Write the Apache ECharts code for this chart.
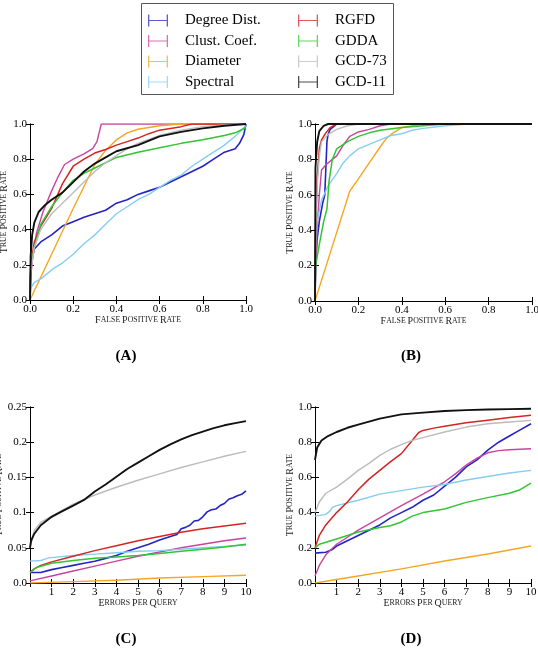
<!DOCTYPE html>
<html>
<head>
<meta charset="utf-8">
<script src="https://cdn.jsdelivr.net/npm/echarts@6/dist/echarts.min.js"></script>
<style>
  html, body { margin: 0; padding: 0; background: #fff; }
  #chart { width: 538px; height: 651px; }
</style>
</head>
<body>
<div id="chart"></div>
<script>
// series names (legend order)
const seriesNames = ['Degree Dist.', 'Clust. Coef.', 'Diameter', 'Spectral', 'RGFD', 'GDDA', 'GCD-73', 'GCD-11']

// (A) ROC, x = false positive rate, y = true positive rate
const degreeA = [[0,0],[0.003,0.15],[0.006,0.22],[0.02,0.29],[0.05,0.33],[0.1,0.37],[0.15,0.42],[0.2,0.445],[0.25,0.47],[0.3,0.49],[0.35,0.51],[0.4,0.55],[0.45,0.57],[0.5,0.6],[0.55,0.62],[0.6,0.64],[0.65,0.67],[0.7,0.7],[0.75,0.73],[0.8,0.76],[0.85,0.8],[0.9,0.84],[0.95,0.86],[0.97,0.89],[0.99,0.94],[1,1]]
const clustA = [[0,0],[0.003,0.12],[0.01,0.22],[0.03,0.38],[0.06,0.5],[0.1,0.62],[0.13,0.7],[0.16,0.77],[0.2,0.8],[0.25,0.83],[0.29,0.86],[0.31,0.9],[0.33,1],[1,1]]
const diameterA = [[0,0],[0.1,0.26],[0.2,0.52],[0.3,0.77],[0.35,0.85],[0.4,0.91],[0.45,0.95],[0.5,0.97],[0.6,0.99],[0.7,1],[1,1]]
const spectralA = [[0,0],[0.005,0.07],[0.02,0.1],[0.05,0.12],[0.08,0.15],[0.11,0.18],[0.15,0.21],[0.2,0.26],[0.25,0.32],[0.3,0.37],[0.35,0.43],[0.4,0.49],[0.45,0.53],[0.5,0.57],[0.55,0.6],[0.6,0.64],[0.65,0.68],[0.7,0.71],[0.75,0.76],[0.8,0.8],[0.85,0.84],[0.9,0.88],[0.95,0.93],[1,0.99]]
const rgfdA = [[0,0],[0.003,0.15],[0.01,0.25],[0.02,0.33],[0.05,0.42],[0.1,0.52],[0.15,0.66],[0.2,0.76],[0.25,0.8],[0.3,0.835],[0.35,0.855],[0.4,0.88],[0.45,0.9],[0.5,0.92],[0.55,0.945],[0.6,0.965],[0.65,0.975],[0.7,0.985],[0.75,1],[1,1]]
const gddaA = [[0,0],[0.003,0.18],[0.02,0.3],[0.05,0.43],[0.1,0.53],[0.15,0.61],[0.2,0.68],[0.25,0.72],[0.3,0.75],[0.35,0.78],[0.4,0.81],[0.5,0.84],[0.6,0.865],[0.7,0.89],[0.8,0.91],[0.9,0.935],[0.95,0.95],[1,0.98]]
const gcd73A = [[0,0],[0.003,0.15],[0.02,0.3],[0.05,0.4],[0.1,0.49],[0.15,0.55],[0.2,0.61],[0.25,0.67],[0.3,0.73],[0.35,0.78],[0.4,0.82],[0.45,0.86],[0.5,0.89],[0.6,0.935],[0.7,0.965],[0.8,0.985],[0.9,0.995],[1,1]]
const gcd11A = [[0,0],[0.003,0.25],[0.01,0.37],[0.02,0.44],[0.04,0.5],[0.07,0.54],[0.1,0.57],[0.15,0.61],[0.2,0.67],[0.25,0.73],[0.3,0.775],[0.35,0.81],[0.4,0.845],[0.5,0.88],[0.6,0.93],[0.7,0.955],[0.8,0.975],[0.9,0.99],[1,1]]

// (B) ROC
const degreeB = [[0,0],[0.003,0.2],[0.01,0.35],[0.02,0.45],[0.035,0.55],[0.045,0.6],[0.05,0.75],[0.055,0.9],[0.06,0.94],[0.07,0.97],[0.09,0.99],[0.1,1],[1,1]]
const clustB = [[0,0],[0.003,0.2],[0.01,0.42],[0.02,0.6],[0.03,0.74],[0.05,0.77],[0.08,0.8],[0.1,0.82],[0.13,0.88],[0.16,0.93],[0.2,0.955],[0.25,0.97],[0.3,0.99],[0.35,1],[1,1]]
const diameterB = [[0,0],[0.08,0.31],[0.16,0.62],[0.2,0.69],[0.25,0.78],[0.3,0.87],[0.33,0.92],[0.36,0.95],[0.4,0.98],[0.45,0.99],[0.5,1],[1,1]]
const spectralB = [[0,0],[0.003,0.3],[0.01,0.45],[0.03,0.57],[0.06,0.65],[0.1,0.72],[0.13,0.78],[0.16,0.82],[0.2,0.86],[0.25,0.885],[0.3,0.91],[0.35,0.935],[0.4,0.945],[0.45,0.965],[0.5,0.975],[0.6,0.99],[0.7,1],[1,1]]
const rgfdB = [[0,0],[0.003,0.4],[0.01,0.7],[0.02,0.86],[0.03,0.91],[0.05,0.95],[0.07,0.98],[0.1,1],[1,1]]
const gddaB = [[0,0],[0.003,0.2],[0.02,0.32],[0.04,0.45],[0.055,0.52],[0.065,0.68],[0.08,0.8],[0.1,0.86],[0.15,0.9],[0.2,0.93],[0.25,0.95],[0.3,0.965],[0.4,0.98],[0.5,0.99],[0.6,1],[1,1]]
const gcd73B = [[0,0],[0.003,0.4],[0.01,0.65],[0.02,0.82],[0.03,0.9],[0.06,0.94],[0.1,0.97],[0.15,0.99],[0.2,1],[1,1]]
const gcd11B = [[0,0],[0.002,0.75],[0.01,0.9],[0.02,0.96],[0.04,0.99],[0.06,1],[1,1]]

// (C) x = errors per query, y = true positive rate
const degreeC = [[0,0.015],[0.5,0.015],[1,0.019],[1.5,0.022],[2,0.025],[2.5,0.028],[3,0.031],[3.5,0.035],[4,0.039],[4.5,0.045],[5,0.05],[5.5,0.055],[6,0.061],[6.5,0.066],[6.8,0.069],[7,0.077],[7.2,0.079],[7.4,0.082],[7.6,0.088],[7.8,0.089],[8,0.094],[8.2,0.101],[8.4,0.104],[8.6,0.105],[8.8,0.11],[9,0.113],[9.2,0.119],[9.4,0.121],[9.6,0.124],[9.8,0.126],[10,0.131]]
const clustC = [[0,0.003],[1,0.01],[2,0.017],[3,0.024],[4,0.031],[5,0.038],[6,0.044],[7,0.05],[8,0.055],[9,0.06],[10,0.064]]
const diameterC = [[0,0],[2,0.002],[4,0.004],[6,0.007],[8,0.009],[10,0.011]]
const spectralC = [[0,0.031],[0.5,0.032],[0.7,0.034],[0.9,0.036],[1,0.036],[2,0.039],[3,0.041],[4,0.043],[5,0.045],[6,0.046],[7,0.048],[8,0.05],[9,0.052],[10,0.054]]
const rgfdC = [[0,0.015],[0.2,0.02],[0.5,0.025],[1,0.03],[2,0.038],[3,0.046],[4,0.053],[5,0.06],[6,0.066],[7,0.072],[8,0.077],[9,0.081],[10,0.085]]
const gddaC = [[0,0.015],[0.3,0.022],[1,0.028],[2,0.032],[3,0.035],[4,0.037],[5,0.039],[6,0.042],[7,0.045],[8,0.048],[9,0.051],[10,0.055]]
const gcd73C = [[0,0.05],[0.2,0.075],[0.5,0.086],[1,0.095],[2,0.112],[3,0.125],[4,0.136],[5,0.146],[6,0.155],[7,0.164],[8,0.172],[9,0.18],[10,0.187]]
const gcd11C = [[0,0.05],[0.05,0.06],[0.2,0.07],[0.5,0.082],[1,0.094],[1.5,0.102],[2,0.11],[2.5,0.118],[3,0.13],[3.5,0.14],[4,0.151],[4.5,0.162],[5,0.171],[5.5,0.18],[6,0.189],[6.5,0.197],[7,0.204],[7.5,0.21],[8,0.215],[8.5,0.22],[9,0.224],[9.5,0.227],[10,0.23]]

// (D)
const degreeD = [[0,0.17],[0.5,0.175],[0.8,0.19],[1,0.21],[1.5,0.24],[2,0.27],[2.5,0.3],[3,0.33],[3.5,0.37],[4,0.4],[4.5,0.43],[5,0.47],[5.5,0.5],[6,0.55],[6.5,0.6],[7,0.66],[7.5,0.7],[8,0.755],[8.5,0.8],[9,0.835],[9.5,0.87],[10,0.905]]
const clustD = [[0,0.04],[0.2,0.1],[0.5,0.16],[1,0.22],[1.5,0.26],[2,0.3],[3,0.37],[4,0.44],[5,0.505],[6,0.575],[6.5,0.62],[7,0.67],[7.5,0.71],[8,0.74],[8.5,0.752],[9,0.757],[10,0.763]]
const diameterD = [[0,0],[2,0.04],[4,0.08],[6,0.125],[8,0.165],[10,0.21]]
const spectralD = [[0,0.38],[0.5,0.39],[0.7,0.41],[0.8,0.43],[1,0.44],[2,0.47],[3,0.505],[4,0.525],[5,0.545],[6,0.56],[7,0.585],[8,0.605],[9,0.625],[10,0.64]]
const rgfdD = [[0,0.2],[0.2,0.27],[0.5,0.33],[1,0.4],[1.5,0.46],[2,0.53],[2.5,0.59],[3,0.64],[3.5,0.69],[4,0.735],[4.5,0.81],[4.8,0.855],[5,0.867],[5.5,0.88],[6,0.89],[7,0.91],[8,0.925],[9,0.94],[10,0.953]]
const gddaD = [[0,0.2],[0.2,0.22],[1,0.25],[2,0.29],[3,0.315],[3.5,0.325],[4,0.347],[4.5,0.38],[5,0.4],[6,0.42],[7,0.458],[8,0.485],[9,0.51],[9.5,0.53],[10,0.568]]
const gcd73D = [[0,0.4],[0.2,0.46],[0.5,0.51],[1,0.545],[1.5,0.59],[2,0.64],[2.5,0.68],[3,0.725],[3.5,0.76],[4,0.786],[4.5,0.81],[5,0.826],[6,0.858],[7,0.886],[8,0.905],[9,0.915],[10,0.924]]
const gcd11D = [[0,0.7],[0.1,0.77],[0.3,0.81],[0.6,0.835],[1,0.858],[1.5,0.882],[2,0.9],[3,0.934],[4,0.958],[5,0.968],[6,0.977],[7,0.982],[8,0.986],[9,0.988],[10,0.99]]

const captions = ['(A)', '(B)', '(C)', '(D)']

// ---- styles / layout ----
const colors = ['#2424c4', '#c8449e', '#f5a623', '#86cdf2', '#d42424', '#33c433', '#bcbcbc', '#111111']
const widths = [1.6, 1.4, 1.4, 1.4, 1.5, 1.5, 1.4, 1.9]
const serif = 'Liberation Serif'

const panels = [
  { data: [degreeA, clustA, diameterA, spectralA, rgfdA, gddaA, gcd73A, gcd11A], grid: { left: 30, top: 124, width: 216, height: 176 }, xName: 'False Positive Rate', xMax: 1, xStep: 0.2, yMax: 1, yStep: 0.2, roc: true, yGap: 21, cx: 126, cy: 356 },
  { data: [degreeB, clustB, diameterB, spectralB, rgfdB, gddaB, gcd73B, gcd11B], grid: { left: 315, top: 124, width: 217, height: 177 }, xName: 'False Positive Rate', xMax: 1, xStep: 0.2, yMax: 1, yStep: 0.2, roc: true, yGap: 20, cx: 411, cy: 356 },
  { data: [degreeC, clustC, diameterC, spectralC, rgfdC, gddaC, gcd73C, gcd11C], grid: { left: 30, top: 407, width: 216, height: 176 }, xName: 'Errors Per Query', xMax: 10, xStep: 1, yMax: 0.25, yStep: 0.05, roc: false, yGap: 26, cx: 126, cy: 639 },
  { data: [degreeD, clustD, diameterD, spectralD, rgfdD, gddaD, gcd73D, gcd11D], grid: { left: 315, top: 407, width: 216, height: 176 }, xName: 'Errors Per Query', xMax: 10, xStep: 1, yMax: 1, yStep: 0.2, roc: false, yGap: 20, cx: 411, cy: 639 }
]

// small caps via rich text
function smallCaps (s) {
  return s.split(' ').map(w => '{a|' + w[0].toUpperCase() + '}{b|' + w.slice(1).toUpperCase() + '}').join('{b| }')
}
const capsStyle = {
  color: '#222',
  rich: {
    a: { fontFamily: serif, fontSize: 10, color: '#222' },
    b: { fontFamily: serif, fontSize: 7.8, color: '#222' }
  }
}
const tickStyle = { show: true, inside: true, length: 4, lineStyle: { color: '#000', width: 1 } }
const lineStyle = { show: true, lineStyle: { color: '#000', width: 1 } }
const labelStyle = { fontFamily: serif, fontSize: 11, color: '#000' }

let grids = []
let xAxes = []
let yAxes = []
let series = []
let graphics = []

panels.forEach((p, i) => {
  // fixed plot boxes: do not let outer labels shrink the grid
  grids.push(Object.assign({ containLabel: false, outerBoundsMode: 'none' }, p.grid))
  const yFmt = v => (v === 0 ? '0.0' : (p.yStep < 0.1 ? String(+v.toFixed(2)) : v.toFixed(1)))
  const xFmt = v => (p.roc ? v.toFixed(1) : (v === 0 ? '' : String(v)))
  xAxes.push({
    gridIndex: i, type: 'value', min: 0, max: p.xMax, interval: p.xStep, position: 'bottom',
    name: smallCaps(p.xName), nameLocation: 'middle', nameGap: 15, nameMoveOverlap: false, nameTextStyle: capsStyle,
    axisLine: lineStyle, axisTick: tickStyle, splitLine: { show: false },
    axisLabel: Object.assign({ margin: 4, formatter: xFmt, showMinLabel: true, showMaxLabel: true }, labelStyle)
  })
  xAxes.push({
    gridIndex: i, type: 'value', min: 0, max: p.xMax, interval: p.xStep, position: 'top',
    axisLine: lineStyle, axisTick: tickStyle, splitLine: { show: false }, axisLabel: { show: false }
  })
  yAxes.push({
    gridIndex: i, type: 'value', min: 0, max: p.yMax, interval: p.yStep, position: 'left',
    name: smallCaps('True Positive Rate'), nameLocation: 'middle', nameGap: p.yGap, nameRotate: 90, nameMoveOverlap: false, nameTextStyle: capsStyle,
    axisLine: lineStyle, axisTick: tickStyle, splitLine: { show: false },
    axisLabel: Object.assign({ margin: 3, formatter: yFmt }, labelStyle)
  })
  yAxes.push({
    gridIndex: i, type: 'value', min: 0, max: p.yMax, interval: p.yStep, position: 'right',
    axisLine: lineStyle, axisTick: tickStyle, splitLine: { show: false }, axisLabel: { show: false }
  })
  p.data.forEach((d, k) => {
    series.push({
      name: seriesNames[k],
      type: 'line',
      xAxisIndex: i * 2,
      yAxisIndex: i * 2,
      data: d,
      showSymbol: false,
      smooth: false,
      clip: true,
      color: colors[k],
      lineStyle: { width: widths[k], color: colors[k], join: 'round' },
      animation: false
    })
  })
  graphics.push({
    type: 'text',
    style: { text: captions[i], x: p.cx, y: p.cy, align: 'center', verticalAlign: 'middle', font: 'bold 15px "Liberation Serif"', fill: '#000' }
  })
})

// legend frame
graphics.push({
  type: 'rect',
  z: -1,
  shape: { x: 141.5, y: 3.5, width: 252, height: 91 },
  style: { fill: '#fff', stroke: '#555', lineWidth: 1 }
})

const barIcon = 'path://M0,0h1.3v12h-1.3z M0,5.4h20v1.2h-20z M18.7,0h1.3v12h-1.3z'
const legendBase = {
  orient: 'vertical',
  top: 13,
  padding: 0,
  itemWidth: 20,
  itemHeight: 12,
  itemGap: 5.5,
  icon: barIcon,
  selectedMode: false,
  itemStyle: { opacity: 0.75 },
  textStyle: { fontFamily: serif, fontSize: 15, lineHeight: 15, color: '#000', padding: [0, 0, 0, 12] }
}

const myChart = echarts.init(document.getElementById('chart'))
myChart.setOption({
  animation: false,
  backgroundColor: '#fff',
  grid: grids,
  xAxis: xAxes,
  yAxis: yAxes,
  legend: [
    Object.assign({ left: 148, data: seriesNames.slice(0, 4) }, legendBase),
    Object.assign({ left: 298, data: seriesNames.slice(4) }, legendBase)
  ],
  graphic: graphics,
  series: series
})
</script>
</body>
</html>
